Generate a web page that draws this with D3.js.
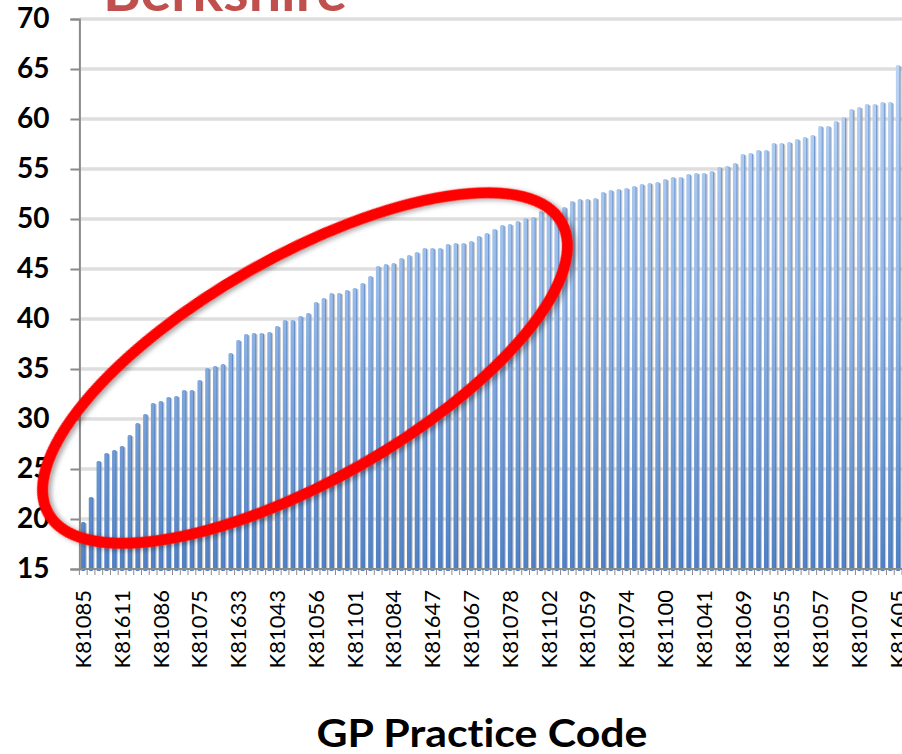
<!DOCTYPE html>
<html>
<head>
<meta charset="utf-8">
<script src="https://cdn.jsdelivr.net/npm/d3@7"></script>
<style>
  html, body { margin: 0; padding: 0; background: #fff; }
  svg { display: block; }
  text { font-variant-ligatures: none; }
  .ytick text { font-family: Lato, sans-serif; font-weight: bold; font-size: 28px; fill: #000; }
  .xtick text { font-family: Lato, sans-serif; font-size: 22px; fill: #000; }
</style>
</head>
<body>
<div id="drawArea"></div>
<script>
// GP practice values, sorted ascending (one bar per practice)
const values = [
  19.7, 22.2, 25.8, 26.6, 26.9, 27.3, 28.4, 29.6, 30.5, 31.6,
  31.8, 32.2, 32.3, 32.9, 32.9, 33.9, 35.1, 35.3, 35.5, 36.6,
  37.9, 38.5, 38.6, 38.6, 38.7, 39.3, 39.9, 39.9, 40.3, 40.6,
  41.7, 42.1, 42.6, 42.6, 42.9, 43.1, 43.6, 44.3, 45.3, 45.5,
  45.6, 46.1, 46.4, 46.7, 47.1, 47.1, 47.1, 47.5, 47.6, 47.6,
  47.8, 48.3, 48.6, 49.0, 49.4, 49.5, 49.8, 50.1, 50.2, 50.8,
  50.9, 51.0, 51.2, 51.8, 52.0, 52.0, 52.1, 52.7, 52.9, 53.0,
  53.1, 53.3, 53.5, 53.6, 53.7, 54.0, 54.2, 54.2, 54.5, 54.6,
  54.6, 54.8, 55.2, 55.3, 55.6, 56.5, 56.6, 56.9, 56.9, 57.6,
  57.6, 57.7, 58.0, 58.2, 58.4, 59.3, 59.3, 59.8, 60.2, 61.0,
  61.2, 61.5, 61.5, 61.7, 61.7, 65.4
];

// only every 5th practice code is printed on the axis
const tickLabels = [
  'K81085', 'K81611', 'K81086', 'K81075', 'K81633', 'K81043', 'K81056', 'K81101',
  'K81084', 'K81647', 'K81067', 'K81078', 'K81102', 'K81059', 'K81074', 'K81100',
  'K81041', 'K81069', 'K81055', 'K81057', 'K81070', 'K81605'
];
const labelEvery = 5;

const yTicks = [15, 20, 25, 30, 35, 40, 45, 50, 55, 60, 65, 70];

const W = 902, H = 754;
const plotLeft = 79.4, plotTop = 19, plotBottom = 569, plotRight = 902;

const svg = d3.select('#drawArea').append('svg')
  .attr('width', W)
  .attr('height', H);

const defs = svg.append('defs');

const grad = defs.append('linearGradient')
  .attr('id', 'barFill')
  .attr('gradientUnits', 'userSpaceOnUse')
  .attr('x1', 0).attr('y1', plotTop)
  .attr('x2', 0).attr('y2', plotBottom);
grad.append('stop').attr('offset', '0%').attr('stop-color', '#c2d9f7');
grad.append('stop').attr('offset', '50%').attr('stop-color', '#97bbea');
grad.append('stop').attr('offset', '100%').attr('stop-color', '#5081c4');

const shadow = defs.append('filter')
  .attr('id', 'ringShadow')
  .attr('x', '-20%').attr('y', '-20%')
  .attr('width', '140%').attr('height', '140%');
shadow.append('feDropShadow')
  .attr('dx', 2).attr('dy', 3)
  .attr('stdDeviation', 2.5)
  .attr('flood-color', '#000')
  .attr('flood-opacity', 0.35);

const x = d3.scaleBand()
  .domain(d3.range(values.length))
  .range([plotLeft, plotRight])
  .paddingInner(0.42)
  .paddingOuter(0.21);

const y = d3.scaleLinear()
  .domain([15, 70])
  .range([plotBottom, plotTop]);

// gridlines
const grid = svg.append('g');
grid.selectAll('line.g1')
  .data(yTicks.slice(1))
  .join('line')
  .attr('x1', plotLeft).attr('x2', plotRight)
  .attr('y1', d => y(d)).attr('y2', d => y(d))
  .attr('stroke', '#cdcdcd')
  .attr('stroke-width', 3);
grid.selectAll('line.g2')
  .data(yTicks.slice(1))
  .join('line')
  .attr('x1', plotLeft).attr('x2', plotRight)
  .attr('y1', d => y(d)).attr('y2', d => y(d))
  .attr('stroke', '#efefef')
  .attr('stroke-width', 1);

// bars
const bw = x.bandwidth();
const bars = svg.append('g');
bars.selectAll('rect.shade')
  .data(values)
  .join('rect')
  .attr('class', 'shade')
  .attr('x', (d, i) => x(i) + bw - 0.5)
  .attr('y', d => y(d) + 1.5)
  .attr('width', 1.8)
  .attr('height', d => plotBottom - y(d) - 1.5)
  .attr('fill', '#8c8c8c')
  .attr('opacity', 0.5);
bars.selectAll('rect.bar')
  .data(values)
  .join('rect')
  .attr('class', 'bar')
  .attr('x', (d, i) => x(i))
  .attr('y', d => y(d))
  .attr('width', bw)
  .attr('height', d => plotBottom - y(d) + 2)
  .attr('rx', 1.6)
  .attr('fill', 'url(#barFill)');
bars.selectAll('rect.edge')
  .data(values)
  .join('rect')
  .attr('class', 'edge')
  .attr('x', (d, i) => x(i) + bw - 1)
  .attr('y', d => y(d) + 1)
  .attr('width', 1)
  .attr('height', d => plotBottom - y(d) - 1)
  .attr('fill', '#3d6aad')
  .attr('opacity', 0.5);

// y axis
const yAxis = svg.append('g')
  .attr('class', 'ytick')
  .attr('transform', `translate(${plotLeft},0)`)
  .call(d3.axisLeft(y).tickValues(yTicks).tickSize(9).tickPadding(21));
yAxis.select('.domain').attr('stroke', '#8a8a8a').attr('stroke-width', 2);
yAxis.selectAll('.tick line').attr('stroke', '#8a8a8a').attr('stroke-width', 2);

// x axis: small ticks between the bars, codes on every 5th bar
const bounds = d3.range(values.length + 1).map(i => plotLeft + x.step() * i);
svg.append('line')
  .attr('x1', plotLeft).attr('x2', plotRight)
  .attr('y1', plotBottom).attr('y2', plotBottom)
  .attr('stroke', '#8a8a8a')
  .attr('stroke-width', 2);
svg.append('g').selectAll('line')
  .data(bounds)
  .join('line')
  .attr('x1', d => d).attr('x2', d => d)
  .attr('y1', plotBottom).attr('y2', plotBottom + 6)
  .attr('stroke', '#8a8a8a')
  .attr('stroke-width', 1);

const xAxis = svg.append('g')
  .attr('class', 'xtick')
  .attr('transform', `translate(0,${plotBottom})`)
  .call(d3.axisBottom(x)
    .tickValues(d3.range(0, values.length, labelEvery))
    .tickFormat((d, i) => tickLabels[i])
    .tickSize(0));
xAxis.select('.domain').remove();
xAxis.selectAll('text')
  .attr('x', 0)
  .attr('y', 0)
  .attr('dy', '.35em')
  .attr('transform', 'translate(0,21) rotate(-90)')
  .attr('text-anchor', 'end');

// axis title
svg.append('text')
  .attr('x', 482)
  .attr('y', 747)
  .attr('text-anchor', 'middle')
  .attr('textLength', 331)
  .attr('lengthAdjust', 'spacingAndGlyphs')
  .style('font-family', 'Lato, sans-serif')
  .style('font-weight', 'bold')
  .style('font-size', '39px')
  .text('GP Practice Code');

// chart title, cut off at the top of the picture
svg.append('text')
  .attr('x', 103)
  .attr('y', 11)
  .attr('textLength', 244)
  .attr('lengthAdjust', 'spacingAndGlyphs')
  .style('font-family', 'Lato, sans-serif')
  .style('font-weight', 'bold')
  .style('font-size', '56px')
  .style('fill', '#c0504d')
  .text('Berkshire');

// red ring drawn over the lower half of the practices
svg.append('ellipse')
  .attr('cx', 305)
  .attr('cy', 368)
  .attr('rx', 295)
  .attr('ry', 112)
  .attr('transform', 'rotate(-29.6 305 368)')
  .attr('fill', 'none')
  .attr('stroke', '#ff0000')
  .attr('stroke-width', 11)
  .attr('filter', 'url(#ringShadow)');
</script>
</body>
</html>
